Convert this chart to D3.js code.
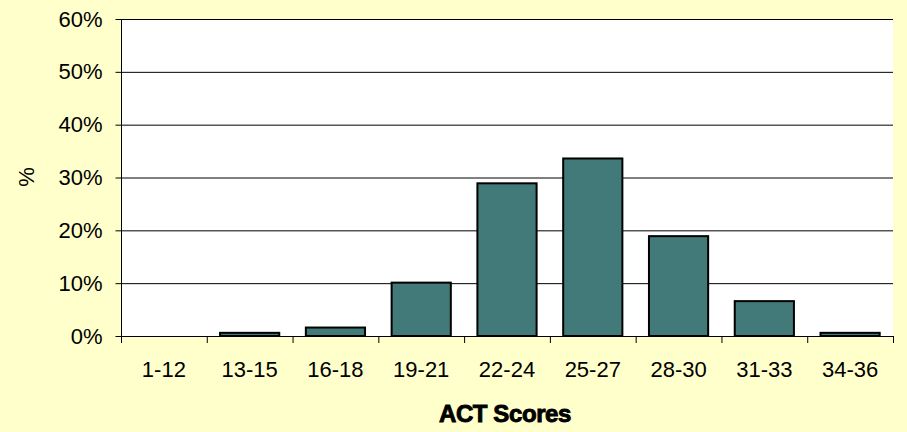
<!DOCTYPE html>
<html>
<head>
<meta charset="utf-8">
<script src="https://cdn.jsdelivr.net/npm/d3@7"></script>
<style>
  body { margin: 0; background: #ffffcc; }
  svg { display: block; }
</style>
</head>
<body>
<svg id="chart" width="907" height="432"></svg>
<script>
// ACT score bands and share of students (%)
var categories = ["1-12", "13-15", "16-18", "19-21", "22-24", "25-27", "28-30", "31-33", "34-36"];
var percents = [0, 0.6, 1.6, 10.1, 28.9, 33.6, 18.9, 6.6, 0.6];
var yTicks = [0, 10, 20, 30, 40, 50, 60];

var svg = d3.select("#chart");
var plotLeft = 121, plotRight = 893, plotTop = 19, plotBottom = 336;
var font = "Liberation Sans, Arial, sans-serif";

svg.append("rect")
    .attr("width", 907).attr("height", 432)
    .attr("fill", "#ffffcc");

var x = d3.scaleBand()
    .domain(categories)
    .range([plotLeft, plotRight])
    .paddingInner(0.31)
    .paddingOuter(0.155);

var y = d3.scaleLinear()
    .domain([0, 60])
    .range([plotBottom, plotTop]);

// plot area
svg.append("rect")
    .attr("x", plotLeft).attr("y", plotTop)
    .attr("width", plotRight - plotLeft).attr("height", plotBottom - plotTop)
    .attr("fill", "#ffffff");

// gridlines
svg.selectAll(".grid")
    .data(yTicks.filter(d => d > 0))
    .enter().append("line")
    .attr("class", "grid")
    .attr("x1", plotLeft).attr("x2", plotRight)
    .attr("y1", d => y(d) + 0.5).attr("y2", d => y(d) + 0.5)
    .attr("stroke", "#000").attr("stroke-width", 1);

// bars
svg.selectAll(".bar")
    .data(percents)
    .enter().append("rect")
    .attr("class", "bar")
    .attr("x", (d, i) => x(categories[i]))
    .attr("y", d => y(d))
    .attr("width", x.bandwidth())
    .attr("height", d => plotBottom - y(d))
    .attr("fill", "#427979")
    .attr("stroke", "#000")
    .attr("stroke-width", d => d > 0 ? 2 : 0);

// y axis
var yAxis = d3.axisLeft(y).tickValues(yTicks).tickFormat(d => d + "%").tickSize(6).tickPadding(13);
var gy = svg.append("g")
    .attr("transform", "translate(" + (plotLeft + 0.5) + ",0)")
    .call(yAxis);
gy.select(".domain").attr("d", "M0," + plotTop + "V" + plotBottom);
gy.selectAll("text").style("font-family", font).style("font-size", "22px").attr("fill", "#000");

// x axis, ticks sit between categories
var xAxis = d3.axisBottom(x).tickSize(0).tickPadding(25);
var gx = svg.append("g")
    .attr("transform", "translate(0," + (plotBottom + 0.5) + ")")
    .call(xAxis);
gx.select(".domain").attr("d", "M" + plotLeft + ",0H" + plotRight);
gx.selectAll("text").style("font-family", font).style("font-size", "22px").attr("fill", "#000");

var step = (plotRight - plotLeft) / categories.length;
svg.selectAll(".xtick")
    .data(d3.range(categories.length + 1))
    .enter().append("line")
    .attr("class", "xtick")
    .attr("x1", i => plotLeft + i * step + 0.5).attr("x2", i => plotLeft + i * step + 0.5)
    .attr("y1", plotBottom).attr("y2", plotBottom + 7)
    .attr("stroke", "#000");

// axis titles
svg.append("text")
    .attr("x", 505).attr("y", 422)
    .attr("text-anchor", "middle")
    .style("font-family", font)
    .style("font-size", "24px")
    .style("font-weight", "bold")
    .style("letter-spacing", "-0.4px")
    .attr("stroke", "#000")
    .attr("stroke-width", 0.9)
    .text("ACT Scores");

svg.append("text")
    .attr("transform", "translate(34,177) rotate(-90)")
    .attr("text-anchor", "middle")
    .style("font-family", font)
    .style("font-size", "22px")
    .text("%");
</script>
</body>
</html>
